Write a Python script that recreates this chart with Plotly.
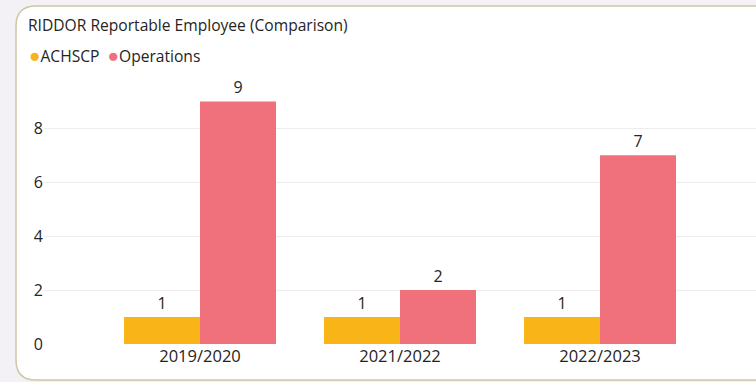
import plotly.graph_objects as go

categories = ["2019/2020", "2021/2022", "2022/2023"]
achscp = [1, 1, 1]
operations = [9, 2, 7]
series_names = ["ACHSCP", "Operations"]
colors = ["#F9B418", "#F0707B"]
title_text = "RIDDOR Reportable Employee (Comparison)"

W, H = 756, 382
ML, MR, MT, MB = 44, 0, 88, 38
PW, PH = W - ML - MR, H - MT - MB
FONT = "Open Sans"

def px(x):
    return (x - ML) / PW

def py(y):
    return (H - MB - y) / PH

fig = go.Figure()
for name, vals, col in zip(series_names, [achscp, operations], colors):
    fig.add_trace(go.Bar(
        x=categories, y=vals, name=name, marker=dict(color=col, line=dict(width=0)),
        text=vals, textposition="outside", cliponaxis=False,
        textfont=dict(family=FONT, size=16, color="#252423"),
        showlegend=False,
    ))

# rounded card
x0, y0, x1, y1, r = 16, 6, 790, 380, 20
path = (f"M {px(x0+r)},{py(y0)} L {px(x1-r)},{py(y0)} Q {px(x1)},{py(y0)} {px(x1)},{py(y0+r)} "
        f"L {px(x1)},{py(y1-r)} Q {px(x1)},{py(y1)} {px(x1-r)},{py(y1)} "
        f"L {px(x0+r)},{py(y1)} Q {px(x0)},{py(y1)} {px(x0)},{py(y1-r)} "
        f"L {px(x0)},{py(y0+r)} Q {px(x0)},{py(y0)} {px(x0+r)},{py(y0)} Z")
fig.add_shape(type="path", path=path, xref="paper", yref="paper", layer="below",
              fillcolor="white", line=dict(color="#CFC6A6", width=1.5))

fig.add_annotation(text=title_text, xref="paper", yref="paper", x=px(26), y=py(25),
                   xanchor="left", yanchor="middle", showarrow=False,
                   font=dict(family=FONT, size=15.6, color="#252423"))
legend_html = "&nbsp;&nbsp;".join(
    f"<span style='color:{c};font-size:19px'>●</span>{n}" for n, c in zip(series_names, colors))
fig.add_annotation(text=legend_html, xref="paper", yref="paper", x=px(27), y=py(55),
                   xanchor="left", yanchor="middle", showarrow=False,
                   font=dict(family=FONT, size=15.6, color="#252423"))

fig.update_layout(
    width=W, height=H, margin=dict(l=ML, r=MR, t=MT, b=MB),
    paper_bgcolor="#F3F1F6", plot_bgcolor="rgba(0,0,0,0)",
    barmode="group", bargap=0.24, bargroupgap=0,
    font=dict(family=FONT, size=15, color="#252423"),
    xaxis=dict(range=[-0.78, 2.78], showgrid=False, zeroline=False, showline=False,
               tickfont=dict(family=FONT, size=16.5, color="#252423"), ticks=""),
    yaxis=dict(range=[0, 9.5], tickvals=[0, 2, 4, 6, 8], showgrid=True,
               gridcolor="#EDEDED", gridwidth=1, zeroline=False, showline=False,
               tickfont=dict(family=FONT, size=16, color="#252423"), ticks=""),
)

fig.write_html("out.html")
